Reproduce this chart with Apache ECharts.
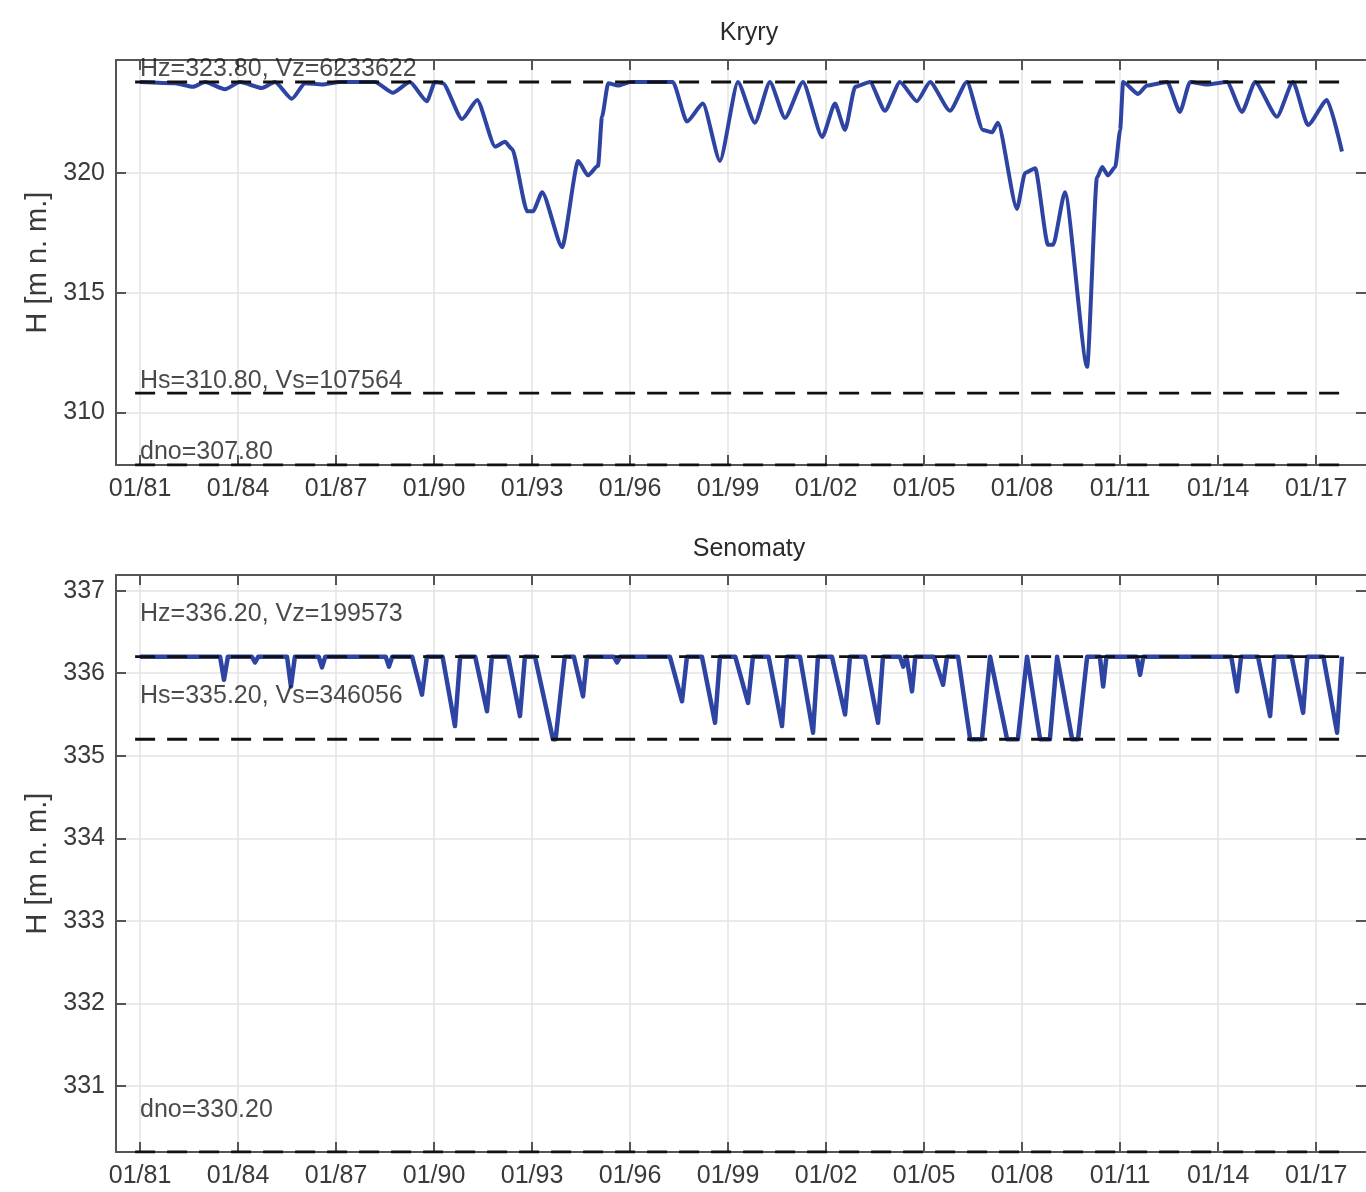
<!DOCTYPE html>
<html>
<head>
<meta charset="utf-8">
<script src="https://cdn.jsdelivr.net/npm/echarts@6/dist/echarts.min.js"></script>
<style>
html,body{margin:0;padding:0;background:#fff;}
#chart{width:1366px;height:1192px;}
</style>
</head>
<body>
<div id="chart"></div>
<script>
// ---------- DATA ----------
const titles = ['Kryry', 'Senomaty'];
const xTickYears = [1981, 1984, 1987, 1990, 1993, 1996, 1999, 2002, 2005, 2008, 2011, 2014, 2017];
const kryryYTicks = [310, 315, 320];
const senomatyYTicks = [331, 332, 333, 334, 335, 336, 337];

// Kryry water level [year, H m n. m.]
const kryryLevel = [
  [1981.00,323.80],[1982.07,323.75],[1982.62,323.60],[1982.99,323.80],[1983.60,323.50],[1984.06,323.80],
  [1984.73,323.55],[1985.13,323.80],[1985.65,323.10],[1986.05,323.75],[1986.57,323.70],[1987.12,323.80],
  [1988.19,323.80],[1988.74,323.35],[1989.26,323.80],[1989.78,323.00],[1990.03,323.80],[1990.27,323.75],
  [1990.86,322.25],[1991.32,323.05],[1991.87,321.10],[1992.17,321.30],[1992.39,321.00],[1992.85,318.40],
  [1993.03,318.40],[1993.31,319.20],[1993.92,316.90],[1994.41,320.50],[1994.71,319.90],[1995.02,320.30],
  [1995.14,322.35],[1995.33,323.75],[1995.63,323.65],[1996.00,323.80],[1997.31,323.80],[1997.74,322.15],
  [1998.23,322.90],[1998.75,320.50],[1999.30,323.80],[1999.82,322.10],[2000.28,323.80],[2000.74,322.30],
  [2001.29,323.80],[2001.88,321.50],[2002.27,322.90],[2002.58,321.80],[2002.89,323.60],[2003.34,323.80],
  [2003.80,322.60],[2004.26,323.80],[2004.78,323.00],[2005.18,323.80],[2005.79,322.60],[2006.31,323.80],
  [2006.80,321.80],[2007.08,321.70],[2007.26,322.10],[2007.84,318.50],[2008.09,320.00],[2008.40,320.20],
  [2008.79,317.00],[2008.95,317.00],[2009.31,319.20],[2009.99,311.90],[2010.29,319.80],[2010.45,320.25],
  [2010.63,319.90],[2010.85,320.25],[2011.00,321.80],[2011.09,323.80],[2011.55,323.30],[2011.82,323.65],
  [2012.44,323.80],[2012.83,322.55],[2013.14,323.80],[2013.66,323.70],[2014.27,323.80],[2014.73,322.55],
  [2015.13,323.80],[2015.80,322.35],[2016.29,323.80],[2016.75,322.00],[2017.33,323.05],[2017.79,320.90]
];

// Senomaty water level [year, H m n. m.]
const senomatyLevel = [
  [1981.00,336.20],
  [1983.45,336.20],[1983.57,335.92],[1983.69,336.20],
  [1984.42,336.20],[1984.52,336.13],[1984.62,336.20],
  [1985.50,336.20],[1985.62,335.84],[1985.74,336.20],
  [1986.47,336.20],[1986.57,336.07],[1986.67,336.20],
  [1988.52,336.20],[1988.62,336.08],[1988.72,336.20],
  [1989.33,336.20],[1989.63,335.74],[1989.78,336.20],
  [1990.26,336.20],[1990.64,335.36],[1990.80,336.20],
  [1991.26,336.20],[1991.62,335.54],[1991.77,336.20],
  [1992.27,336.20],[1992.63,335.48],[1992.78,336.20],
  [1993.09,336.20],[1993.64,335.20],[1993.72,335.20],[1994.00,336.20],
  [1994.28,336.20],[1994.56,335.72],[1994.68,336.20],
  [1995.50,336.20],[1995.60,336.13],[1995.70,336.20],
  [1997.22,336.20],[1997.59,335.66],[1997.74,336.20],
  [1998.20,336.20],[1998.60,335.40],[1998.75,336.20],
  [1999.22,336.20],[1999.61,335.64],[1999.76,336.20],
  [2000.24,336.20],[2000.65,335.36],[2000.80,336.20],
  [2001.20,336.20],[2001.60,335.28],[2001.75,336.20],
  [2002.18,336.20],[2002.58,335.50],[2002.73,336.20],
  [2003.19,336.20],[2003.59,335.40],[2003.74,336.20],
  [2004.26,336.20],[2004.36,336.08],[2004.46,336.20],[2004.50,336.20],[2004.63,335.78],[2004.73,336.20],
  [2005.30,336.20],[2005.58,335.86],[2005.70,336.20],
  [2006.04,336.20],[2006.41,335.20],[2006.77,335.20],[2007.02,336.20],[2007.54,335.20],[2007.87,335.20],
  [2008.15,336.20],[2008.55,335.20],[2008.85,335.20],[2009.07,336.20],[2009.53,335.20],[2009.71,335.20],
  [2009.99,336.20],
  [2010.38,336.20],[2010.48,335.84],[2010.58,336.20],
  [2011.51,336.20],[2011.61,335.98],[2011.71,336.20],
  [2014.40,336.20],[2014.58,335.78],[2014.70,336.20],
  [2015.22,336.20],[2015.59,335.48],[2015.72,336.20],
  [2016.25,336.20],[2016.60,335.52],[2016.73,336.20],
  [2017.22,336.20],[2017.64,335.28],[2017.79,336.20]
];

// reference levels: [Hz, Hs, dno] and volumes [Vz, Vs]
const kryryH = [323.80, 310.80, 307.80];
const kryryV = [6233622, 107564];
const senomatyH = [336.20, 335.20, 330.20];
const senomatyV = [199573, 346056];
const refLineYears = [1980.85, 2017.90];

// ---------- STYLE ----------
const FONT = '"Liberation Sans", Arial, sans-serif';
const FS = 25;
const LINE_BLUE = '#2e44a3';
const AXIS_C = '#555555';
const GRID_C = '#e3e3e3';
const X_MIN = 1980.265, X_MAX = 2018.525;
const yRanges = [[307.8, 324.72], [330.2, 337.19]];

const grids = [
  {left: 116, right: 0, top: 60, height: 405},
  {left: 116, right: 0, top: 575, height: 577}
];

function xAxes(gi) {
  return [
    {
      gridIndex: gi, type: 'value', min: X_MIN, max: X_MAX,
      axisLine: {show: true, onZero: false, lineStyle: {color: AXIS_C, width: 2}},
      axisTick: {show: true, inside: true, length: 10, customValues: xTickYears, lineStyle: {color: AXIS_C, width: 2}},
      axisLabel: {show: true, customValues: xTickYears, margin: 12, fontSize: FS, fontFamily: FONT, color: '#3a3a3a',
        formatter: v => '01/' + String(Math.round(v)).slice(2)},
      splitLine: {show: true, lineStyle: {color: GRID_C, width: 1.5}}
    },
    {
      gridIndex: gi, type: 'value', position: 'top', min: X_MIN, max: X_MAX,
      axisLine: {show: true, onZero: false, lineStyle: {color: AXIS_C, width: 2}},
      axisTick: {show: true, inside: true, length: 10, customValues: xTickYears, lineStyle: {color: AXIS_C, width: 2}},
      axisLabel: {show: false},
      splitLine: {show: false}
    }
  ];
}
function yAxes(gi, ticks) {
  return [
    {
      gridIndex: gi, type: 'value', min: yRanges[gi][0], max: yRanges[gi][1],
      name: 'H [m n. m.]', nameLocation: 'middle', nameGap: 64,
      nameTextStyle: {fontSize: 29, fontFamily: FONT, color: '#3a3a3a'},
      axisLine: {show: true, onZero: false, lineStyle: {color: AXIS_C, width: 2}},
      axisTick: {show: true, inside: true, length: 10, customValues: ticks, lineStyle: {color: AXIS_C, width: 2}},
      axisLabel: {show: true, customValues: ticks, margin: 11, fontSize: FS, fontFamily: FONT, color: '#3a3a3a'},
      splitLine: {show: true, lineStyle: {color: GRID_C, width: 1.5}}
    },
    {
      gridIndex: gi, type: 'value', position: 'right', min: yRanges[gi][0], max: yRanges[gi][1],
      axisLine: {show: true, onZero: false, lineStyle: {color: '#bbbbbb', width: 1}},
      axisTick: {show: true, inside: true, length: 10, customValues: ticks, lineStyle: {color: AXIS_C, width: 2}},
      axisLabel: {show: false},
      splitLine: {show: false}
    }
  ];
}

function levelSeries(xi, yi, data, smooth, width) {
  return {type: 'line', xAxisIndex: xi, yAxisIndex: yi, data: data, symbol: 'none', smooth: smooth,
    smoothMonotone: 'x', lineStyle: {color: LINE_BLUE, width: width, join: 'round'}, z: 3, animation: false};
}
function dashSeries(xi, yi, h) {
  return {type: 'line', xAxisIndex: xi, yAxisIndex: yi, symbol: 'none',
    data: refLineYears.map(y => [y, h]),
    lineStyle: {color: '#111', width: 2.8, type: [20, 12]}, z: 5, animation: false, silent: true};
}
function textSeries(xi, yi, h, text, dy) {
  return {type: 'scatter', xAxisIndex: xi, yAxisIndex: yi, symbolSize: 0, data: [[1981, h]],
    label: {show: true, position: 'right', distance: 0, offset: [0, dy], formatter: text,
      fontSize: FS, fontFamily: FONT, color: '#1c1c1c'}, z: 6, animation: false, silent: true};
}

const fmt = v => v.toFixed(2);
const series = [
  levelSeries(0, 0, kryryLevel, 0.2, 4),
  dashSeries(0, 0, kryryH[0]), dashSeries(0, 0, kryryH[1]), dashSeries(0, 0, kryryH[2]),
  textSeries(0, 0, kryryH[0], 'Hz=' + fmt(kryryH[0]) + ', Vz=' + kryryV[0], -13),
  textSeries(0, 0, kryryH[1], 'Hs=' + fmt(kryryH[1]) + ', Vs=' + kryryV[1], -12),
  textSeries(0, 0, kryryH[2], 'dno=' + fmt(kryryH[2]), -13),
  levelSeries(2, 2, senomatyLevel, false, 4.5),
  dashSeries(2, 2, senomatyH[0]), dashSeries(2, 2, senomatyH[1]), dashSeries(2, 2, senomatyH[2]),
  textSeries(2, 2, senomatyH[0], 'Hz=' + fmt(senomatyH[0]) + ', Vz=' + senomatyV[0], -43),
  textSeries(2, 2, senomatyH[1], 'Hs=' + fmt(senomatyH[1]) + ', Vs=' + senomatyV[1], -43),
  textSeries(2, 2, senomatyH[2], 'dno=' + fmt(senomatyH[2]), -42)
];

const chart = echarts.init(document.getElementById('chart'), null, {renderer: 'canvas'});
chart.setOption({
  animation: false,
  backgroundColor: '#ffffff',
  title: [
    {text: titles[0], left: 744, top: 16, textAlign: 'center', textStyle: {fontSize: FS, fontWeight: 'normal', fontFamily: FONT, color: '#2a2a2a'}},
    {text: titles[1], left: 744, top: 532, textAlign: 'center', textStyle: {fontSize: FS, fontWeight: 'normal', fontFamily: FONT, color: '#2a2a2a'}}
  ],
  grid: grids,
  xAxis: xAxes(0).concat(xAxes(1)),
  yAxis: yAxes(0, kryryYTicks).concat(yAxes(1, senomatyYTicks)),
  series: series
});
</script>
</body>
</html>
